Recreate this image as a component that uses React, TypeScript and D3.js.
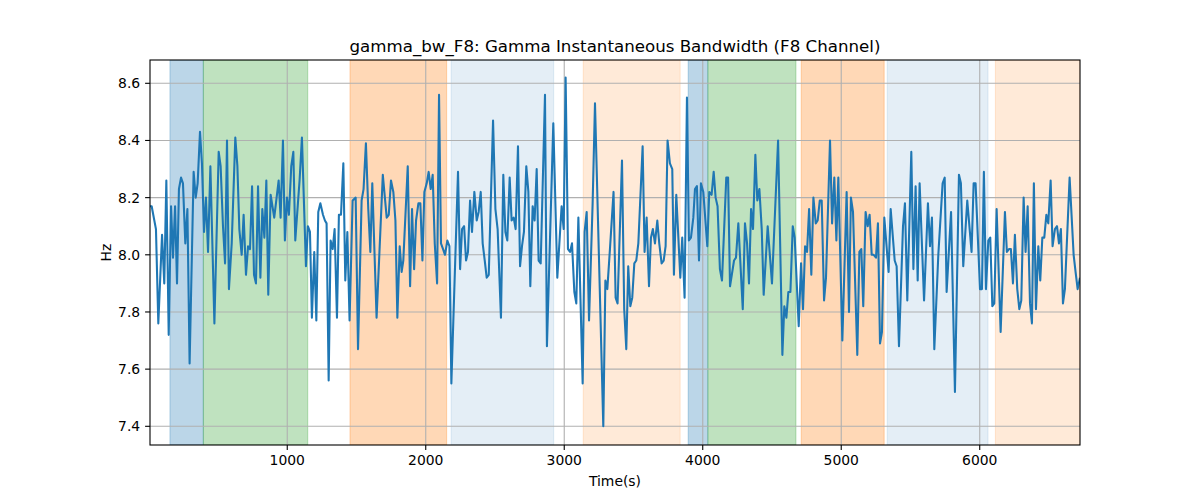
import React, { useMemo } from 'react';
import * as d3 from 'd3';

// gamma bandwidth samples
const timeS = [
  9, 21, 52, 69, 96, 112, 127, 144, 161, 175, 190, 204, 218, 233, 247, 264, 279, 295, 324, 339,
  353, 370, 384, 399, 413, 428, 445, 474, 505, 519, 536, 551, 565, 579, 599, 625, 640, 654, 671, 685,
  702, 717, 731, 746, 760, 774, 789, 806, 820, 835, 849, 863, 880, 906, 938, 952, 969, 983, 998, 1012,
  1029, 1044, 1058, 1077, 1089, 1106, 1135, 1149, 1164, 1178, 1195, 1210, 1224, 1239, 1258, 1272, 1284, 1299, 1313, 1328,
  1342, 1359, 1373, 1388, 1405, 1419, 1434, 1450, 1472, 1494, 1511, 1537, 1551, 1568, 1585, 1600, 1614, 1645, 1690, 1718,
  1733, 1749, 1766, 1781, 1795, 1812, 1826, 1838, 1870, 1887, 1901, 1916, 1930, 1947, 1961, 1976, 1990, 2007, 2021, 2036,
  2050, 2065, 2082, 2096, 2110, 2125, 2139, 2156, 2171, 2185, 2233, 2248, 2262, 2277, 2291, 2305, 2320, 2334, 2351, 2368,
  2382, 2397, 2411, 2426, 2440, 2455, 2486, 2503, 2519, 2543, 2560, 2575, 2589, 2606, 2620, 2635, 2649, 2666, 2681, 2695,
  2709, 2726, 2741, 2755, 2772, 2786, 2801, 2815, 2830, 2861, 2875, 2921, 2950, 2981, 2996, 3010, 3027, 3042, 3056, 3073,
  3087, 3102, 3133, 3147, 3162, 3179, 3205, 3222, 3282, 3297, 3311, 3330, 3356, 3371, 3385, 3417, 3433, 3448, 3462, 3477,
  3491, 3506, 3520, 3535, 3566, 3580, 3595, 3612, 3626, 3640, 3655, 3672, 3686, 3703, 3718, 3732, 3746, 3763, 3780, 3792,
  3809, 3838, 3852, 3869, 3886, 3900, 3915, 3932, 3944, 3958, 3973, 3987, 4004, 4033, 4047, 4064, 4079, 4093, 4107, 4124,
  4139, 4170, 4183, 4197, 4226, 4240, 4257, 4289, 4305, 4320, 4334, 4349, 4363, 4380, 4394, 4409, 4426, 4440, 4469, 4500,
  4544, 4575, 4589, 4604, 4618, 4633, 4650, 4664, 4693, 4710, 4724, 4739, 4753, 4768, 4784, 4799, 4816, 4830, 4845, 4859,
  4876, 4890, 4919, 4934, 4950, 4965, 4979, 5008, 5039, 5056, 5070, 5085, 5116, 5131, 5145, 5159, 5176, 5191, 5205, 5220,
  5234, 5251, 5265, 5280, 5294, 5311, 5342, 5357, 5386, 5400, 5417, 5446, 5460, 5477, 5506, 5521, 5537, 5552, 5566, 5598,
  5626, 5641, 5655, 5672, 5701, 5732, 5747, 5761, 5793, 5821, 5850, 5864, 5881, 5910, 5941, 5956, 5970, 6002, 6016, 6030,
  6045, 6062, 6076, 6091, 6105, 6122, 6151, 6182, 6196, 6211, 6225, 6240, 6254, 6271, 6286, 6300, 6317, 6331, 6346, 6363,
  6377, 6391, 6406, 6423, 6437, 6452, 6466, 6481, 6495, 6512, 6526, 6543, 6558, 6572, 6586, 6601, 6615, 6649, 6678, 6692,
  6707, 6724
];

const bwHz = [
  8.17, 8.17, 8.09, 7.76, 8.07, 7.90, 8.26, 7.72, 8.17, 7.99, 8.17, 7.90, 8.23, 8.27, 8.25, 8.04, 8.16, 7.62, 8.29, 8.20,
  8.25, 8.43, 8.32, 8.08, 8.20, 8.01, 8.31, 7.76, 8.36, 8.31, 8.10, 7.97, 8.40, 7.88, 8.04, 8.41, 8.31, 8.09, 8.00, 8.14,
  7.93, 8.03, 8.02, 8.24, 7.93, 7.90, 8.24, 7.92, 8.16, 8.06, 8.26, 7.86, 8.21, 8.13, 8.26, 8.13, 8.40, 8.05, 8.20, 8.14,
  8.31, 8.36, 8.05, 8.18, 8.26, 8.41, 7.96, 8.10, 8.08, 7.78, 8.01, 7.77, 8.15, 8.18, 8.14, 8.12, 8.11, 7.56, 8.05, 8.02,
  8.09, 7.78, 8.14, 8.14, 8.32, 7.91, 8.08, 7.77, 8.19, 8.20, 7.67, 8.19, 8.23, 8.39, 8.16, 8.01, 8.25, 7.78, 8.28, 8.13,
  8.14, 8.26, 8.22, 8.12, 7.78, 8.03, 7.94, 7.98, 8.31, 7.89, 8.16, 7.95, 8.12, 8.18, 8.18, 7.98, 8.22, 8.25, 8.29, 8.23,
  8.28, 8.04, 7.90, 8.56, 8.04, 8.02, 8.00, 8.05, 8.03, 7.55, 8.29, 7.95, 8.09, 8.10, 7.98, 8.01, 8.19, 8.08, 8.22, 8.12,
  8.15, 8.22, 8.04, 7.98, 7.92, 7.93, 8.47, 8.16, 8.09, 7.78, 8.28, 8.08, 8.05, 8.27, 8.12, 8.13, 8.09, 8.38, 7.96, 8.03,
  8.08, 8.31, 8.22, 7.89, 8.17, 8.12, 8.30, 7.98, 7.97, 8.56, 7.68, 8.46, 7.92, 8.17, 8.09, 8.62, 8.02, 8.01, 8.04, 7.87,
  7.83, 8.13, 7.55, 8.08, 8.15, 7.77, 8.18, 8.53, 7.40, 7.91, 7.88, 8.02, 8.22, 7.85, 7.83, 8.33, 7.81, 7.67, 7.96, 7.82,
  7.85, 7.97, 7.98, 8.04, 8.38, 8.01, 8.13, 7.89, 8.06, 8.09, 8.04, 8.12, 8.04, 7.97, 7.98, 8.03, 8.40, 8.32, 8.30, 7.93,
  8.21, 7.92, 8.06, 7.85, 8.55, 8.05, 8.06, 8.13, 8.23, 8.24, 7.98, 8.25, 8.22, 8.03, 8.22, 8.21, 8.29, 8.20, 8.17, 7.95,
  7.91, 8.27, 8.27, 7.89, 7.98, 7.99, 8.11, 7.81, 8.11, 8.04, 7.90, 8.16, 8.09, 8.35, 8.19, 8.23, 8.09, 7.86, 8.10, 7.90,
  8.40, 7.65, 7.82, 7.78, 7.87, 7.87, 8.10, 8.06, 7.75, 7.97, 7.81, 8.03, 8.01, 8.16, 7.93, 8.20, 8.11, 8.12, 8.19, 8.19,
  7.84, 7.92, 8.40, 8.11, 8.27, 8.05, 8.27, 7.70, 8.22, 7.80, 8.20, 8.15, 7.65, 8.01, 8.02, 7.82, 8.15, 8.10, 8.14, 8.00,
  8.00, 7.99, 8.11, 7.69, 7.73, 8.13, 7.94, 8.16, 7.98, 7.96, 7.68, 8.10, 8.18, 7.84, 8.36, 7.95, 8.24, 7.91, 8.25, 7.84,
  8.18, 8.03, 8.13, 7.67, 8.00, 8.25, 8.27, 7.87, 8.15, 7.52, 8.28, 8.25, 7.96, 8.19, 8.01, 8.25, 8.25, 7.88, 7.88, 8.29,
  7.88, 8.05, 8.06, 7.82, 7.83, 8.16, 7.73, 8.15, 8.01, 8.02, 8.02, 7.90, 8.07, 7.88, 7.81, 7.84, 8.20, 8.01, 8.17, 7.83,
  7.76, 8.25, 7.81, 8.03, 7.91, 8.06, 8.06, 8.14, 8.11, 8.26, 8.03, 8.09, 8.10, 8.04, 8.09, 7.83, 7.88, 8.27, 8.00, 7.94,
  7.88, 7.92
];

// shaded stage spans (start, end, kind)
const bandStart = [153, 394, 1453, 2183, 3137, 3895, 4037, 4711, 5332, 6113];
const bandEnd = [394, 1148, 2151, 2924, 3837, 4037, 4673, 5310, 6060, 6724];
const bandKind = ['blue', 'green', 'orange', 'paleBlue', 'paleOrange', 'blue', 'green', 'orange', 'paleBlue', 'paleOrange'];

const bandFill: Record<string, { color: string; opacity: number }> = {
  blue: { color: '#1f77b4', opacity: 0.3 },
  green: { color: '#2ca02c', opacity: 0.3 },
  orange: { color: '#ff7f0e', opacity: 0.3 },
  paleBlue: { color: '#1f77b4', opacity: 0.12 },
  paleOrange: { color: '#ff7f0e', opacity: 0.16 }
};

const xTicks = [1000, 2000, 3000, 4000, 5000, 6000];
const yTicks = [7.4, 7.6, 7.8, 8.0, 8.2, 8.4, 8.6];

const W = 1200;
const H = 500;
const margin = { left: 150, right: 120, top: 60, bottom: 55 };
const font = '"DejaVu Sans", sans-serif';

const App = () => {
  const x = useMemo(() => d3.scaleLinear().domain([9, 6724]).range([margin.left, W - margin.right]), []);
  const y = useMemo(() => d3.scaleLinear().domain([7.3346, 8.6815]).range([H - margin.bottom, margin.top]), []);

  const linePath = useMemo(() => {
    const pts: [number, number][] = timeS.map((t, i) => [t, bwHz[i]]);
    return d3
      .line<[number, number]>()
      .x((d) => x(d[0]))
      .y((d) => y(d[1]))(pts);
  }, [x, y]);

  const x0 = margin.left;
  const x1 = W - margin.right;
  const y0 = margin.top;
  const y1 = H - margin.bottom;

  return (
    <svg width={W} height={H} style={{ display: 'block', margin: -8 }}>
      <rect width={W} height={H} fill="white" />
      <defs>
        <clipPath id="plot">
          <rect x={x0} y={y0} width={x1 - x0} height={y1 - y0} />
        </clipPath>
      </defs>

      <g clipPath="url(#plot)">
        {bandStart.map((s, i) => {
          const f = bandFill[bandKind[i]];
          return (
            <rect
              key={i}
              x={x(s)}
              y={y0}
              width={x(bandEnd[i]) - x(s)}
              height={y1 - y0}
              fill={f.color}
              fillOpacity={f.opacity}
              stroke={f.color}
              strokeOpacity={f.opacity}
              strokeWidth={1}
            />
          );
        })}

        {xTicks.map((t) => (
          <line key={t} x1={x(t)} x2={x(t)} y1={y0} y2={y1} stroke="#b0b0b0" strokeWidth={1.1} />
        ))}
        {yTicks.map((t) => (
          <line key={t} x1={x0} x2={x1} y1={y(t)} y2={y(t)} stroke="#b0b0b0" strokeWidth={1.1} />
        ))}

        <path d={linePath ?? ''} fill="none" stroke="#1f77b4" strokeWidth={2.08} strokeLinejoin="round" />
      </g>

      <rect x={x0} y={y0} width={x1 - x0} height={y1 - y0} fill="none" stroke="black" strokeWidth={1.1} />

      {xTicks.map((t) => (
        <g key={t} transform={`translate(${x(t)},${y1})`}>
          <line y2={4.9} stroke="black" strokeWidth={1.1} />
          <text y={19.5} textAnchor="middle" fontFamily={font} fontSize={13.9} fill="black">
            {t}
          </text>
        </g>
      ))}
      {yTicks.map((t) => (
        <g key={t} transform={`translate(${x0},${y(t)})`}>
          <line x2={-4.9} stroke="black" strokeWidth={1.1} />
          <text x={-9.8} dy="0.35em" textAnchor="end" fontFamily={font} fontSize={13.9} fill="black">
            {t.toFixed(1)}
          </text>
        </g>
      ))}

      <text x={(x0 + x1) / 2} y={51.7} textAnchor="middle" fontFamily={font} fontSize={16.67} fill="black">
        gamma_bw_F8: Gamma Instantaneous Bandwidth (F8 Channel)
      </text>
      <text x={(x0 + x1) / 2} y={486} textAnchor="middle" fontFamily={font} fontSize={13.9} fill="black">
        Time(s)
      </text>
      <text
        transform={`translate(111,${(y0 + y1) / 2}) rotate(-90)`}
        textAnchor="middle"
        fontFamily={font}
        fontSize={13.9}
        fill="black"
      >
        Hz
      </text>
    </svg>
  );
};

export default App;
